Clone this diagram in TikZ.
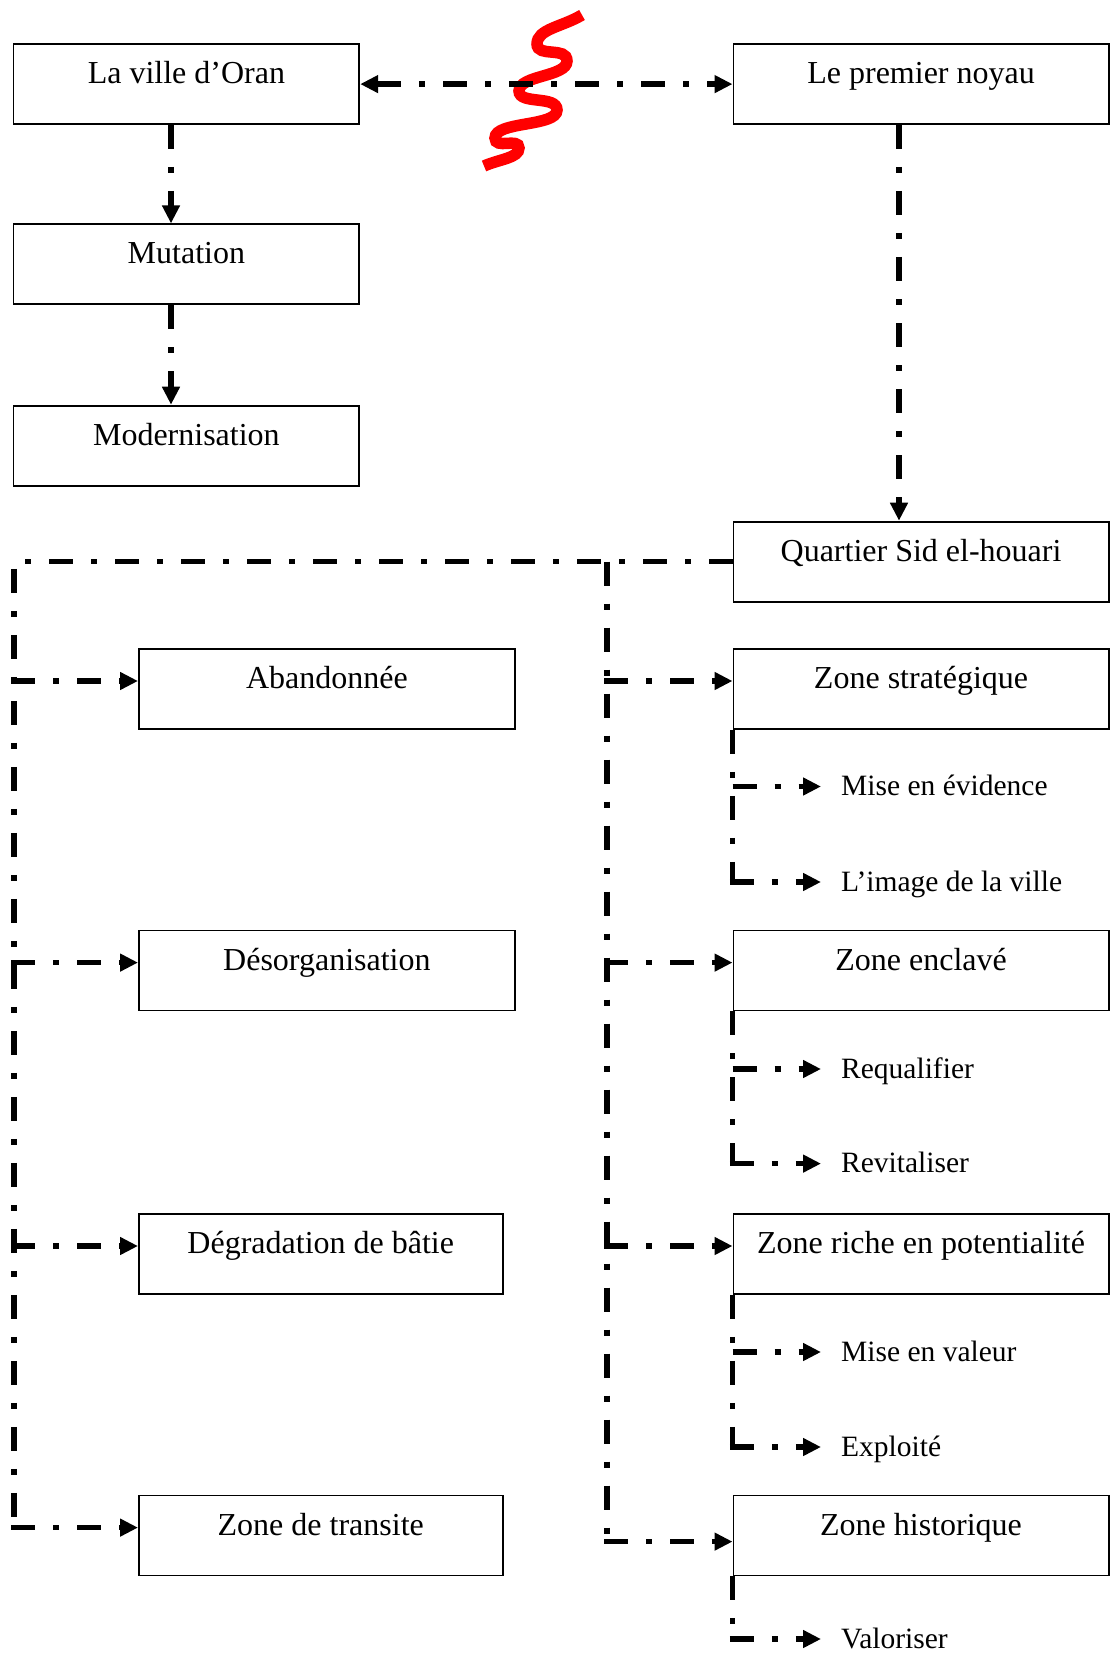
\documentclass[tikz,border=0pt]{standalone}
\usepackage{fontspec}
\setmainfont{Liberation Serif}
\usetikzlibrary{arrows.meta}
\begin{document}
\begin{tikzpicture}[x=1pt,y=-1pt,
  box/.style={draw, line width=1.8pt, inner xsep=0pt, inner ysep=0pt,
    text height=39.5pt, text depth=40.5pt, anchor=north west,
    font=\fontsize{32}{38}\selectfont},
  lab/.style={anchor=base west, inner xsep=20pt, inner ysep=0pt,
    font=\fontsize{29.5}{35}\selectfont},
  conn/.style={line width=5.5pt, dash pattern=on 24pt off 18pt on 6pt off 18pt},
  tip/.style={-{Triangle[length=18pt,width=17pt]}},
  tips/.style={{Triangle[length=18pt,width=17pt]}-{Triangle[length=18pt,width=17pt]}}
]
\useasboundingbox (0,0) rectangle (1112,1653);

% upper chain
\node[box, minimum width=345.8pt] (oran) at (12.6,43.2) {La ville d’Oran};
\node[box, minimum width=375.3pt] (noyau) at (732.5,43.2) {Le premier noyau};
\node[box, minimum width=345.8pt] (mutation) at (12.6,223.4) {Mutation};
\node[box, minimum width=345.8pt] (modern) at (12.6,404.7) {Modernisation};
\node[box, minimum width=375.3pt] (quartier) at (732.5,520.7) {Quartier Sid el-houari};

% left column
\node[box, minimum width=376pt] (aband) at (138,648) {Abandonnée};
\node[box, minimum width=376pt] (desorg) at (138,929.6) {Désorganisation};
\node[box, minimum width=363.7pt] (degrad) at (138,1213) {Dégradation de bâtie};
\node[box, minimum width=363.7pt] (transite) at (138,1494.6) {Zone de transite};

% right column
\node[box, minimum width=375.3pt] (strat) at (732.5,648) {Zone stratégique};
\node[box, minimum width=375.3pt] (enclave) at (732.5,929.6) {Zone enclavé};
\node[box, minimum width=375.3pt] (riche) at (732.5,1213) {Zone riche en potentialité};
\node[box, minimum width=375.3pt] (histo) at (732.5,1494.6) {Zone historique};

% actions
\node[lab] (mise) at (821,795.5) {Mise en évidence};
\node[lab] (image) at (821,891) {L’image de la ville};
\node[lab] (requal) at (821,1078) {Requalifier};
\node[lab] (revit) at (821,1172.6) {Revitaliser};
\node[lab] (valeur) at (821,1361) {Mise en valeur};
\node[lab] (exploit) at (821,1456) {Exploité};
\node[lab] (valor) at (821,1648) {Valoriser};

% guide columns for the vertical runs
\coordinate (xo) at (171,0);
\coordinate (xn) at (899,0);
\coordinate (xl) at (13.8,0);
\coordinate (xm) at (607,0);

% arrow entry points
\foreach \n in {aband,desorg,degrad,transite,strat,enclave,riche}
  \coordinate (\n-in) at ([yshift=-33pt]\n.north west);
\coordinate (histo-in) at ([yshift=-47pt]histo.north west);
\foreach \n in {mise,image,requal,revit,valeur,exploit,valor}
  \coordinate (\n-in) at ([yshift=9pt]\n.base west);

% break mark
\draw[red, line width=11.5pt]
  (582,15) .. controls (562,27) and (537,29) .. (537,44)
  .. controls (537,58) and (567,46) .. (567,61)
  .. controls (567,77) and (519,75) .. (519,91)
  .. controls (519,105) and (557,95) .. (557,110)
  .. controls (557,127) and (495,121) .. (495,138)
  .. controls (495,150) and (519,137) .. (519,148)
  .. controls (519,158) and (500,159) .. (484,166);

% top links
\draw[conn,tips] (oran.east) -- (noyau.west);
\draw[conn,tip] (oran.south -| xo) -- (mutation.north -| xo);
\draw[conn,tip] (mutation.south -| xo) -- (modern.north -| xo);
\draw[conn,tip] (noyau.south -| xn) -- (quartier.north -| xn);

% main trunks
\draw[conn] (quartier.west) -- (quartier.west -| xl) -- (transite-in -| xl);
\draw[conn] (quartier.west -| xm) -- (histo-in -| xm);
\foreach \n in {aband,desorg,degrad,transite}
  \draw[conn,tip] ([xshift=-2.75pt]\n-in -| xl) -- (\n-in);
\foreach \n in {strat,enclave,riche,histo}
  \draw[conn,tip] ([xshift=-2.75pt]\n-in -| xm) -- (\n-in);

% sub branches
\foreach \b/\u/\l in {strat/mise/image, enclave/requal/revit, riche/valeur/exploit}{
  \coordinate (\l-c) at (\l-in -| \b.south west);
  \draw[conn] (\b.south west) -- (\l-c);
  \draw[conn,tip] ([xshift=-2.75pt]\l-c) -- (\l-in);
  \draw[conn,tip] (\u-in -| \b.south west) -- (\u-in);
}
\coordinate (valor-c) at (valor-in -| histo.south west);
\draw[conn] (histo.south west) -- (valor-c);
\draw[conn,tip] ([xshift=-2.75pt]valor-c) -- (valor-in);
\end{tikzpicture}
\end{document}
